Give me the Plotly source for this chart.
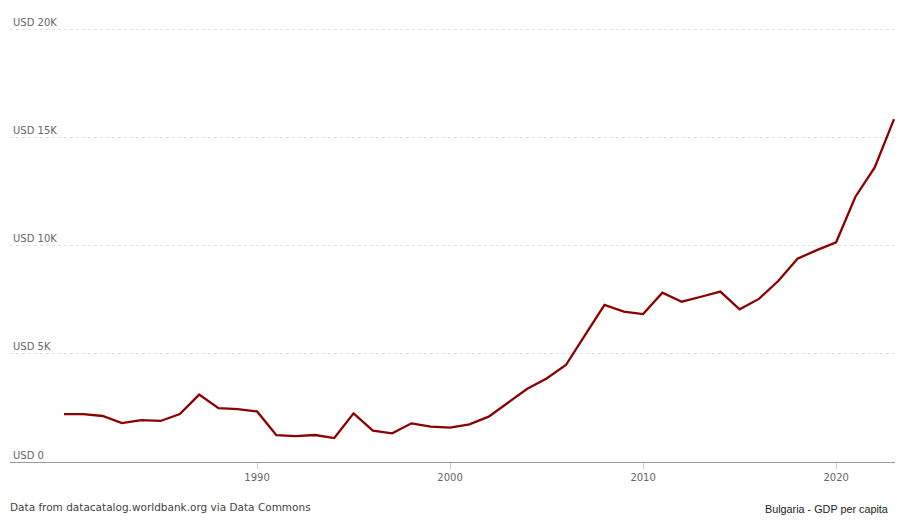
import plotly.graph_objects as go

years = list(range(1980, 2024))
gdp_per_capita = [
    2220, 2220, 2130, 1800, 1940, 1900, 2220, 3120, 2490, 2450,
    2340, 1240, 1200, 1250, 1110, 2250, 1450, 1330, 1790, 1640,
    1590, 1740, 2100, 2730, 3390, 3870, 4490, 5880, 7270, 6960,
    6850, 7840, 7420, 7650, 7890, 7070, 7550, 8380, 9410, 9810,
    10170, 12280, 13640, 15870,
]
y_ticks = [0, 5000, 10000, 15000, 20000]
y_tick_labels = ["USD 0", "USD 5K", "USD 10K", "USD 15K", "USD 20K"]
x_ticks = [1990, 2000, 2010, 2020]
series_name = "Bulgaria - GDP per capita"
source_text = "Data from datacatalog.worldbank.org via Data Commons"

fig = go.Figure()
fig.add_trace(go.Scatter(
    x=years, y=gdp_per_capita, mode="lines", name=series_name,
    line=dict(color="#8b0000", width=2.3), showlegend=False,
))

fig.update_layout(
    width=904, height=523,
    margin=dict(l=10, r=9, t=17, b=61),
    paper_bgcolor="white", plot_bgcolor="white",
    font=dict(family="DejaVu Sans", size=10, color="#666"),
    xaxis=dict(
        range=[1977.2, 2023.05], tickvals=x_ticks, ticktext=[str(v) for v in x_ticks],
        showgrid=False, zeroline=False, showline=False,
        ticks="outside", ticklen=6, tickcolor="#ccc",
        tickfont=dict(family="DejaVu Sans", size=10, color="#666"),
    ),
    yaxis=dict(
        range=[0, 20600], tickvals=y_ticks, ticktext=y_tick_labels,
        showgrid=True, gridcolor="#e0e0e0", griddash="dot", gridwidth=1,
        zeroline=True, zerolinecolor="#999", zerolinewidth=1,
        showline=False, ticks="",
        ticklabelposition="inside top",
        tickfont=dict(family="DejaVu Sans", size=10, color="#666"),
    ),
    annotations=[
        dict(text=source_text, xref="paper", yref="paper", x=0.0, y=-0.1,
             xanchor="left", yanchor="middle", showarrow=False, xshift=-2, yshift=0,
             font=dict(family="DejaVu Sans", size=10.5, color="#444")),
        dict(text=series_name, xref="paper", yref="paper", x=0.9995, y=-0.108,
             xanchor="right", yanchor="middle", showarrow=False, xshift=-5, yshift=1,
             font=dict(family="Liberation Sans", size=10.8, color="#222")),
    ],
)

fig.write_html("out.html")
